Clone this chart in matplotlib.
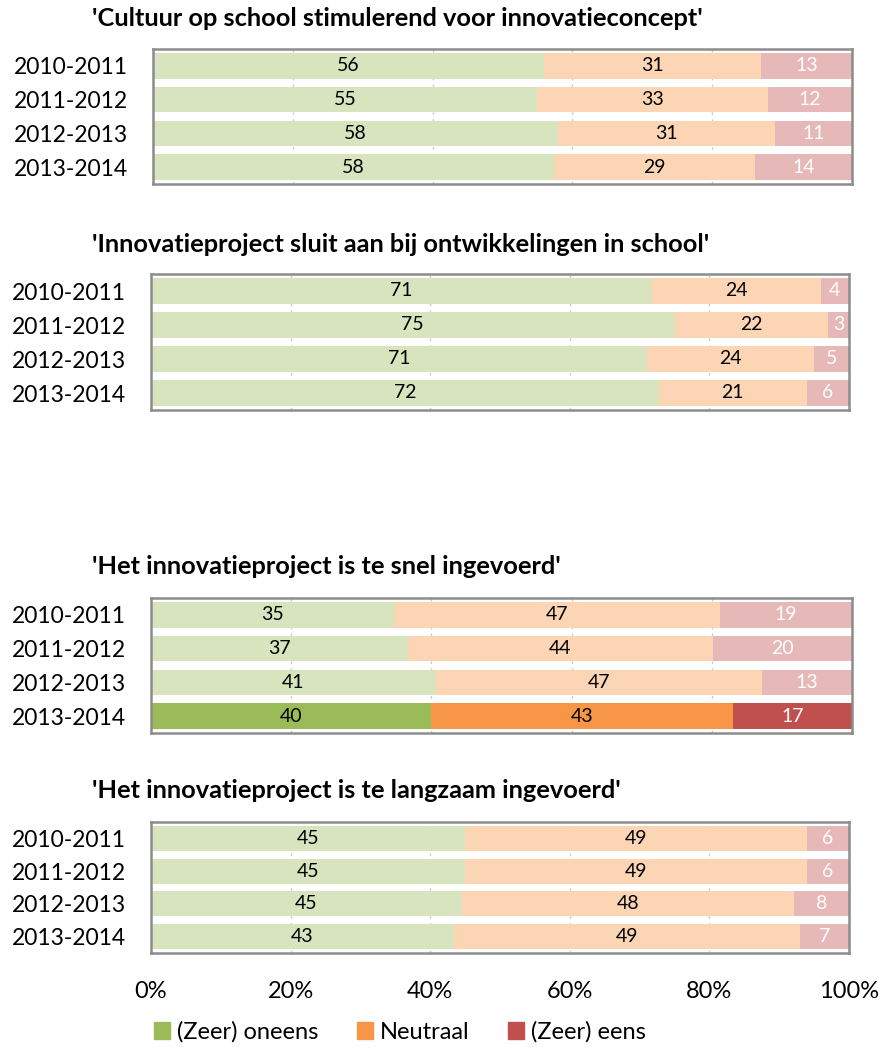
import matplotlib.pyplot as plt
import numpy as np

jaren = ['2010-2011', '2011-2012', '2012-2013', '2013-2014']
titels = ["'Cultuur op school stimulerend voor innovatieconcept'",
          "'Innovatieproject sluit aan bij ontwikkelingen in school'",
          "'Het innovatieproject is te snel ingevoerd'",
          "'Het innovatieproject is te langzaam ingevoerd'"]
oneens = [[56, 55, 58, 58], [71, 75, 71, 72], [35, 37, 41, 40], [45, 45, 45, 43]]
neutraal = [[31, 33, 31, 29], [24, 22, 24, 21], [47, 44, 47, 43], [49, 49, 48, 49]]
eens = [[13, 12, 11, 14], [4, 3, 5, 6], [19, 20, 13, 17], [6, 6, 8, 7]]
categorieen = ['(Zeer) oneens', 'Neutraal', '(Zeer) eens']

# Kleuren
licht = ['#D7E4BD', '#FCD5B5', '#E6B9B8']
vol = ['#9BBB59', '#F79646', '#C0504D']
tekst_kleur = ['black', 'black', 'white']

plt.rcParams['font.family'] = ['Lato', 'DejaVu Sans']

W, H = 881, 1047
fig = plt.figure(figsize=(W / 100, H / 100), dpi=100)

# positie van panelen in pixels: links, rechts, boven, onder
panelen = [(153, 852, 49, 184), (151, 849, 274, 410), (151, 852, 598, 733), (151, 849, 822, 953)]
titel_y = [18, 244, 566, 790]
uitgelicht = {2: 3}  # paneel 3, laatste rij in volle kleuren

for p in range(4):
    l, r, t, b = panelen[p]
    ax = fig.add_axes([l / W, 1 - b / H, (r - l) / W, (b - t) / H])
    waarden = np.array([oneens[p], neutraal[p], eens[p]], dtype=float)
    totaal = waarden.sum(axis=0)
    frac = waarden / totaal * 100
    y = np.arange(len(jaren))
    links = np.zeros(len(jaren))
    for c in range(3):
        kleuren = [licht[c]] * len(jaren)
        if p in uitgelicht:
            kleuren[uitgelicht[p]] = vol[c]
        ax.barh(y, frac[c], left=links, height=0.76, color=kleuren, zorder=2)
        for i in range(len(jaren)):
            ax.text(links[i] + frac[c][i] / 2, y[i], str(int(waarden[c][i])),
                    ha='center', va='center', fontsize=14, color=tekst_kleur[c], zorder=3)
        links += frac[c]
    ax.set_xlim(0, 100)
    ax.set_ylim(len(jaren) - 0.5, -0.5)
    ax.set_yticks(y)
    ax.set_yticklabels(jaren, fontsize=16.5)
    ax.tick_params(axis='y', length=0, pad=18)
    ax.set_xticks([0, 20, 40, 60, 80, 100])
    ax.xaxis.grid(True, linestyle=(0, (2, 3)), color='#CCCCCC', linewidth=1, zorder=0)
    if p == 3:
        ax.set_xticklabels(['0%', '20%', '40%', '60%', '80%', '100%'], fontsize=17)
        ax.tick_params(axis='x', length=0, pad=20)
    else:
        ax.tick_params(axis='x', length=0, labelbottom=False)
    for s in ax.spines.values():
        s.set_color('#8C8C8C')
        s.set_linewidth(1.8)
    fig.text(92 / W, 1 - titel_y[p] / H, titels[p], fontsize=18.3, fontweight='bold',
             ha='left', va='center')

# Legenda
handles = [plt.Rectangle((0, 0), 1, 1, color=k) for k in vol]
fig.legend(handles, categorieen, loc='center', bbox_to_anchor=(400 / W, 1 - 1032 / H), ncol=3,
           frameon=False, fontsize=17, handlelength=0.7, handleheight=0.7,
           handletextpad=0.3, columnspacing=1.6)

fig.savefig('out.png', dpi=100)
